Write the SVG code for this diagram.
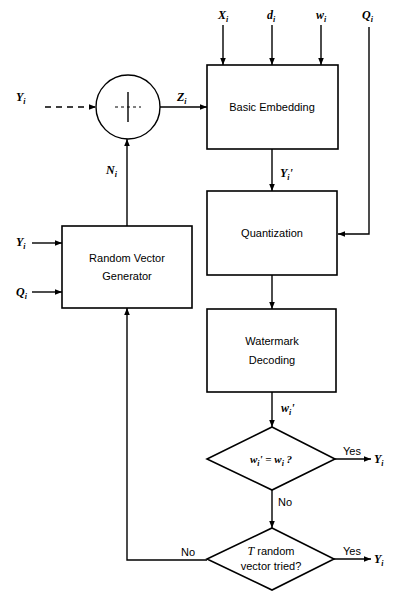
<svg xmlns="http://www.w3.org/2000/svg" width="395" height="591" viewBox="0 0 395 591">
<defs>
<marker id="ah" viewBox="0 0 10 10" refX="10" refY="5" markerWidth="7" markerHeight="7" markerUnits="userSpaceOnUse" orient="auto">
<path d="M0,1 L10,5 L0,9 z" fill="#000"/>
</marker>
</defs>
<style>
.box{fill:#fff;stroke:#000;stroke-width:1.6}
.ln{fill:none;stroke:#000;stroke-width:1.4}
.t{font-family:"Liberation Sans",Arial,sans-serif;font-size:11px;fill:#000;text-anchor:middle}
.m{font-family:"Liberation Serif","Times New Roman",serif;font-size:12px;font-weight:bold;font-style:italic;fill:#000}
.s{font-size:8px}
</style>
<rect width="395" height="591" fill="#fff"/>
<g id="connectors">
<line class="ln" x1="223" y1="25" x2="223" y2="65" marker-end="url(#ah)"/>
<line class="ln" x1="272" y1="25" x2="272" y2="65" marker-end="url(#ah)"/>
<line class="ln" x1="321" y1="25" x2="321" y2="65" marker-end="url(#ah)"/>
<polyline class="ln" points="369,27 369,234 338,234" marker-end="url(#ah)"/>
<line class="ln" x1="45" y1="107" x2="96" y2="107" stroke-dasharray="6,5" marker-end="url(#ah)"/>
<line class="ln" x1="160" y1="107" x2="207" y2="107" marker-end="url(#ah)"/>
<line class="ln" x1="127" y1="226" x2="127" y2="139" marker-end="url(#ah)"/>
<line class="ln" x1="272" y1="149" x2="272" y2="191" marker-end="url(#ah)"/>
<line class="ln" x1="272" y1="275" x2="272" y2="309" marker-end="url(#ah)"/>
<line class="ln" x1="272" y1="392" x2="272" y2="427" marker-end="url(#ah)"/>
<line class="ln" x1="272" y1="490" x2="272" y2="528" marker-end="url(#ah)"/>
<line class="ln" x1="335" y1="459" x2="371" y2="459" marker-end="url(#ah)"/>
<line class="ln" x1="334" y1="559" x2="371" y2="559" marker-end="url(#ah)"/>
<polyline class="ln" points="207,560 127,560 127,308" marker-end="url(#ah)"/>
<line class="ln" x1="32" y1="243" x2="62" y2="243" marker-end="url(#ah)"/>
<line class="ln" x1="32" y1="292" x2="62" y2="292" marker-end="url(#ah)"/>
<text class="t" x="188" y="556">No</text>
<text class="t" x="285" y="506">No</text>
<text class="t" x="352" y="455">Yes</text>
<text class="t" x="352" y="555">Yes</text>
</g>
<g id="labels">
<text class="m" x="218" y="19">X<tspan class="s" dy="3">i</tspan></text>
<text class="m" x="267" y="19">d<tspan class="s" dy="3">i</tspan></text>
<text class="m" x="316" y="19">w<tspan class="s" dy="3">i</tspan></text>
<text class="m" x="362" y="19">Q<tspan class="s" dy="3">i</tspan></text>
<text class="m" x="16" y="101">Y<tspan class="s" dy="3">i</tspan></text>
<text class="m" x="177" y="101">Z<tspan class="s" dy="3">i</tspan></text>
<text class="m" x="106" y="174">N<tspan class="s" dy="3">i</tspan></text>
<text class="m" x="16" y="246">Y<tspan class="s" dy="3">i</tspan></text>
<text class="m" x="16" y="296">Q<tspan class="s" dy="3">i</tspan></text>
<text class="m" x="280" y="177">Y<tspan class="s" dy="3">i</tspan><tspan dy="-3">'</tspan></text>
<text class="m" x="281" y="412">w<tspan class="s" dy="3">i</tspan><tspan dy="-3">'</tspan></text>
<text class="m" x="374" y="463">Y<tspan class="s" dy="3">i</tspan></text>
<text class="m" x="374" y="563">Y<tspan class="s" dy="3">i</tspan></text>
</g>
<g id="adder">
<circle cx="128" cy="107" r="32" fill="#fff" stroke="#000" stroke-width="1.4"/>
<line class="ln" x1="128" y1="92" x2="128" y2="122"/>
<line x1="115" y1="107" x2="141" y2="107" stroke="#000" stroke-width="1" stroke-dasharray="3,3"/>
</g>
<g id="basic-embedding">
<rect class="box" x="207" y="65" width="131" height="84"/>
<text class="t" x="272" y="111">Basic Embedding</text>
</g>
<g id="quantization">
<rect class="box" x="207" y="191" width="130" height="84"/>
<text class="t" x="272" y="237">Quantization</text>
</g>
<g id="watermark-decoding">
<rect class="box" x="207" y="309" width="129" height="83"/>
<text class="t" x="272" y="345">Watermark</text>
<text class="t" x="272" y="364">Decoding</text>
</g>
<g id="random-vector-generator">
<rect class="box" x="62" y="226" width="130" height="82"/>
<text class="t" x="127" y="262">Random Vector</text>
<text class="t" x="127" y="280">Generator</text>
</g>
<g id="decision-match">
<polygon class="box" points="272,427 335,459 272,490 207,459"/>
<text class="m" x="271" y="463" text-anchor="middle" style="font-size:11px">w<tspan class="s" dy="3">i</tspan><tspan dy="-3">' = w</tspan><tspan class="s" dy="3">i</tspan><tspan dy="-3"> ?</tspan></text>
</g>
<g id="decision-tried">
<polygon class="box" points="272,528 334,559 272,590 207,559"/>
<text class="t" x="271" y="555"><tspan style="font-family:'Liberation Serif',serif;font-style:italic;font-size:12px">T</tspan> random</text>
<text class="t" x="271" y="570">vector tried?</text>
</g>
</svg>
